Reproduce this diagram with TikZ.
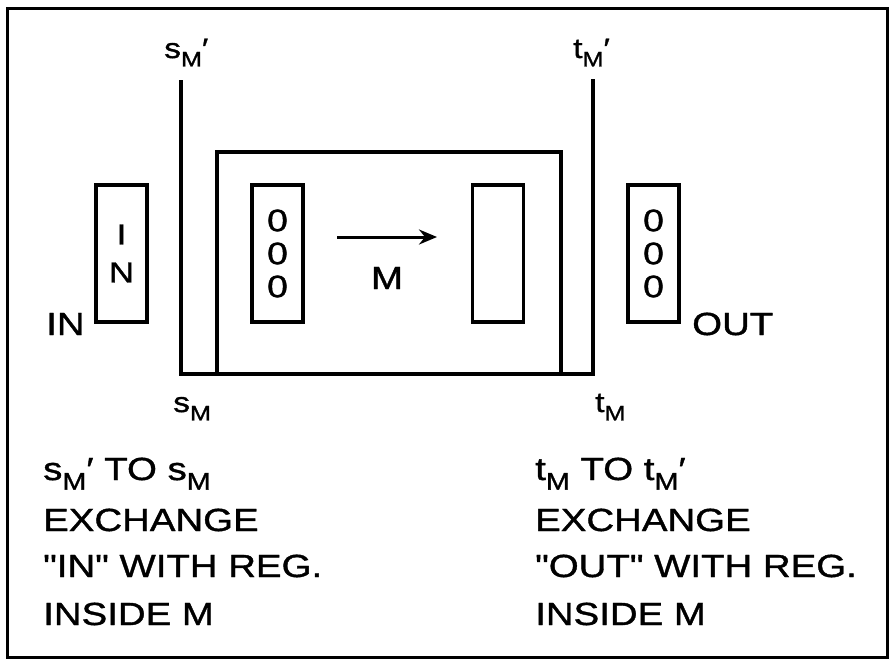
\documentclass[tikz,border=0pt]{standalone}
\usepackage{graphicx}
\usepackage{fontspec}
\setmainfont{Liberation Sans}[FakeStretch=1.2, FakeBold=1.2, Ligatures=TeXOff]
\usetikzlibrary{arrows.meta, positioning}

\newcommand{\regsub}[1]{#1\raisebox{-0.3em}{\scalebox{0.75}{M}}}

\begin{document}
\begin{tikzpicture}[
    x=1pt, y=-1pt,
    every node/.style={font=\fontsize{32}{38}\selectfont, inner sep=0pt},
    reg/.style={rectangle, draw, line width=3.4pt, minimum width=51pt, minimum height=137pt, align=center},
    bits/.style={font=\fontsize{31}{33}\selectfont},
    wire/.style={line width=3.4pt},
    lbl/.style={anchor=base west, font=\fontsize{28}{34}\selectfont},
    note/.style={anchor=base west},
    arrow/.style={-{Stealth[length=18pt, width=15pt, inset=6pt]}, line width=3pt}
]
\useasboundingbox (0,0) rectangle (889,665);

% --- frame ---
\draw[line width=3pt] (7,8) rectangle (887,657);

% --- registers ---
\node (inreg) [reg, font=\fontsize{29}{38}\selectfont] at (121.5,253.5) {I\\N};
\node (srcreg) [reg, bits] at (277.5,253.5) {0\\0\\0};
\node (dstreg) [reg] at (498,253.5) {};
\node (outreg) [reg, bits] at (653.5,253.5) {0\\0\\0};

% --- wires and M box ---
\coordinate (stop) at (181,80);
\coordinate (sbot) at (181,374);
\coordinate (ttop) at (593,79);
\coordinate (tbot) at (593,374);
\draw[wire] (stop) -- (sbot) -- (tbot) -- (ttop);
\draw[wire] (217,374) |- (561,152) -- (561,374);

\coordinate (arrtail) at (337,237);
\coordinate (arrhead) at (437,237);
\draw[arrow] (arrtail) -- (arrhead);
\node (mlbl) at (387,278) {M};

% --- labels ---
\node (inlbl) [note] at (46,335) {IN};
\node (outlbl) [note] at (692,335) {OUT};
\node (sprime) [lbl] at (164,58) {\regsub{s}′};
\node (tprime) [lbl] at (573,58) {\regsub{t}′};
\node (slow) [lbl] at (173,412) {\regsub{s}};
\node (tlow) [lbl] at (595,412) {\regsub{t}};

% --- notes ---
\node (sline1) [note] at (43,480) {\regsub{s}′ TO \regsub{s}};
\node (sline2) [note] at (43,531) {EXCHANGE};
\node (sline3) [note] at (43,577) {"IN" WITH REG.};
\node (sline4) [note] at (43,625) {INSIDE M};
\node (tline1) [note] at (535,480) {\regsub{t} TO \regsub{t}′};
\node (tline2) [note] at (535,531) {EXCHANGE};
\node (tline3) [note] at (535,577) {"OUT" WITH REG.};
\node (tline4) [note] at (535,625) {INSIDE M};

\end{tikzpicture}
\end{document}
